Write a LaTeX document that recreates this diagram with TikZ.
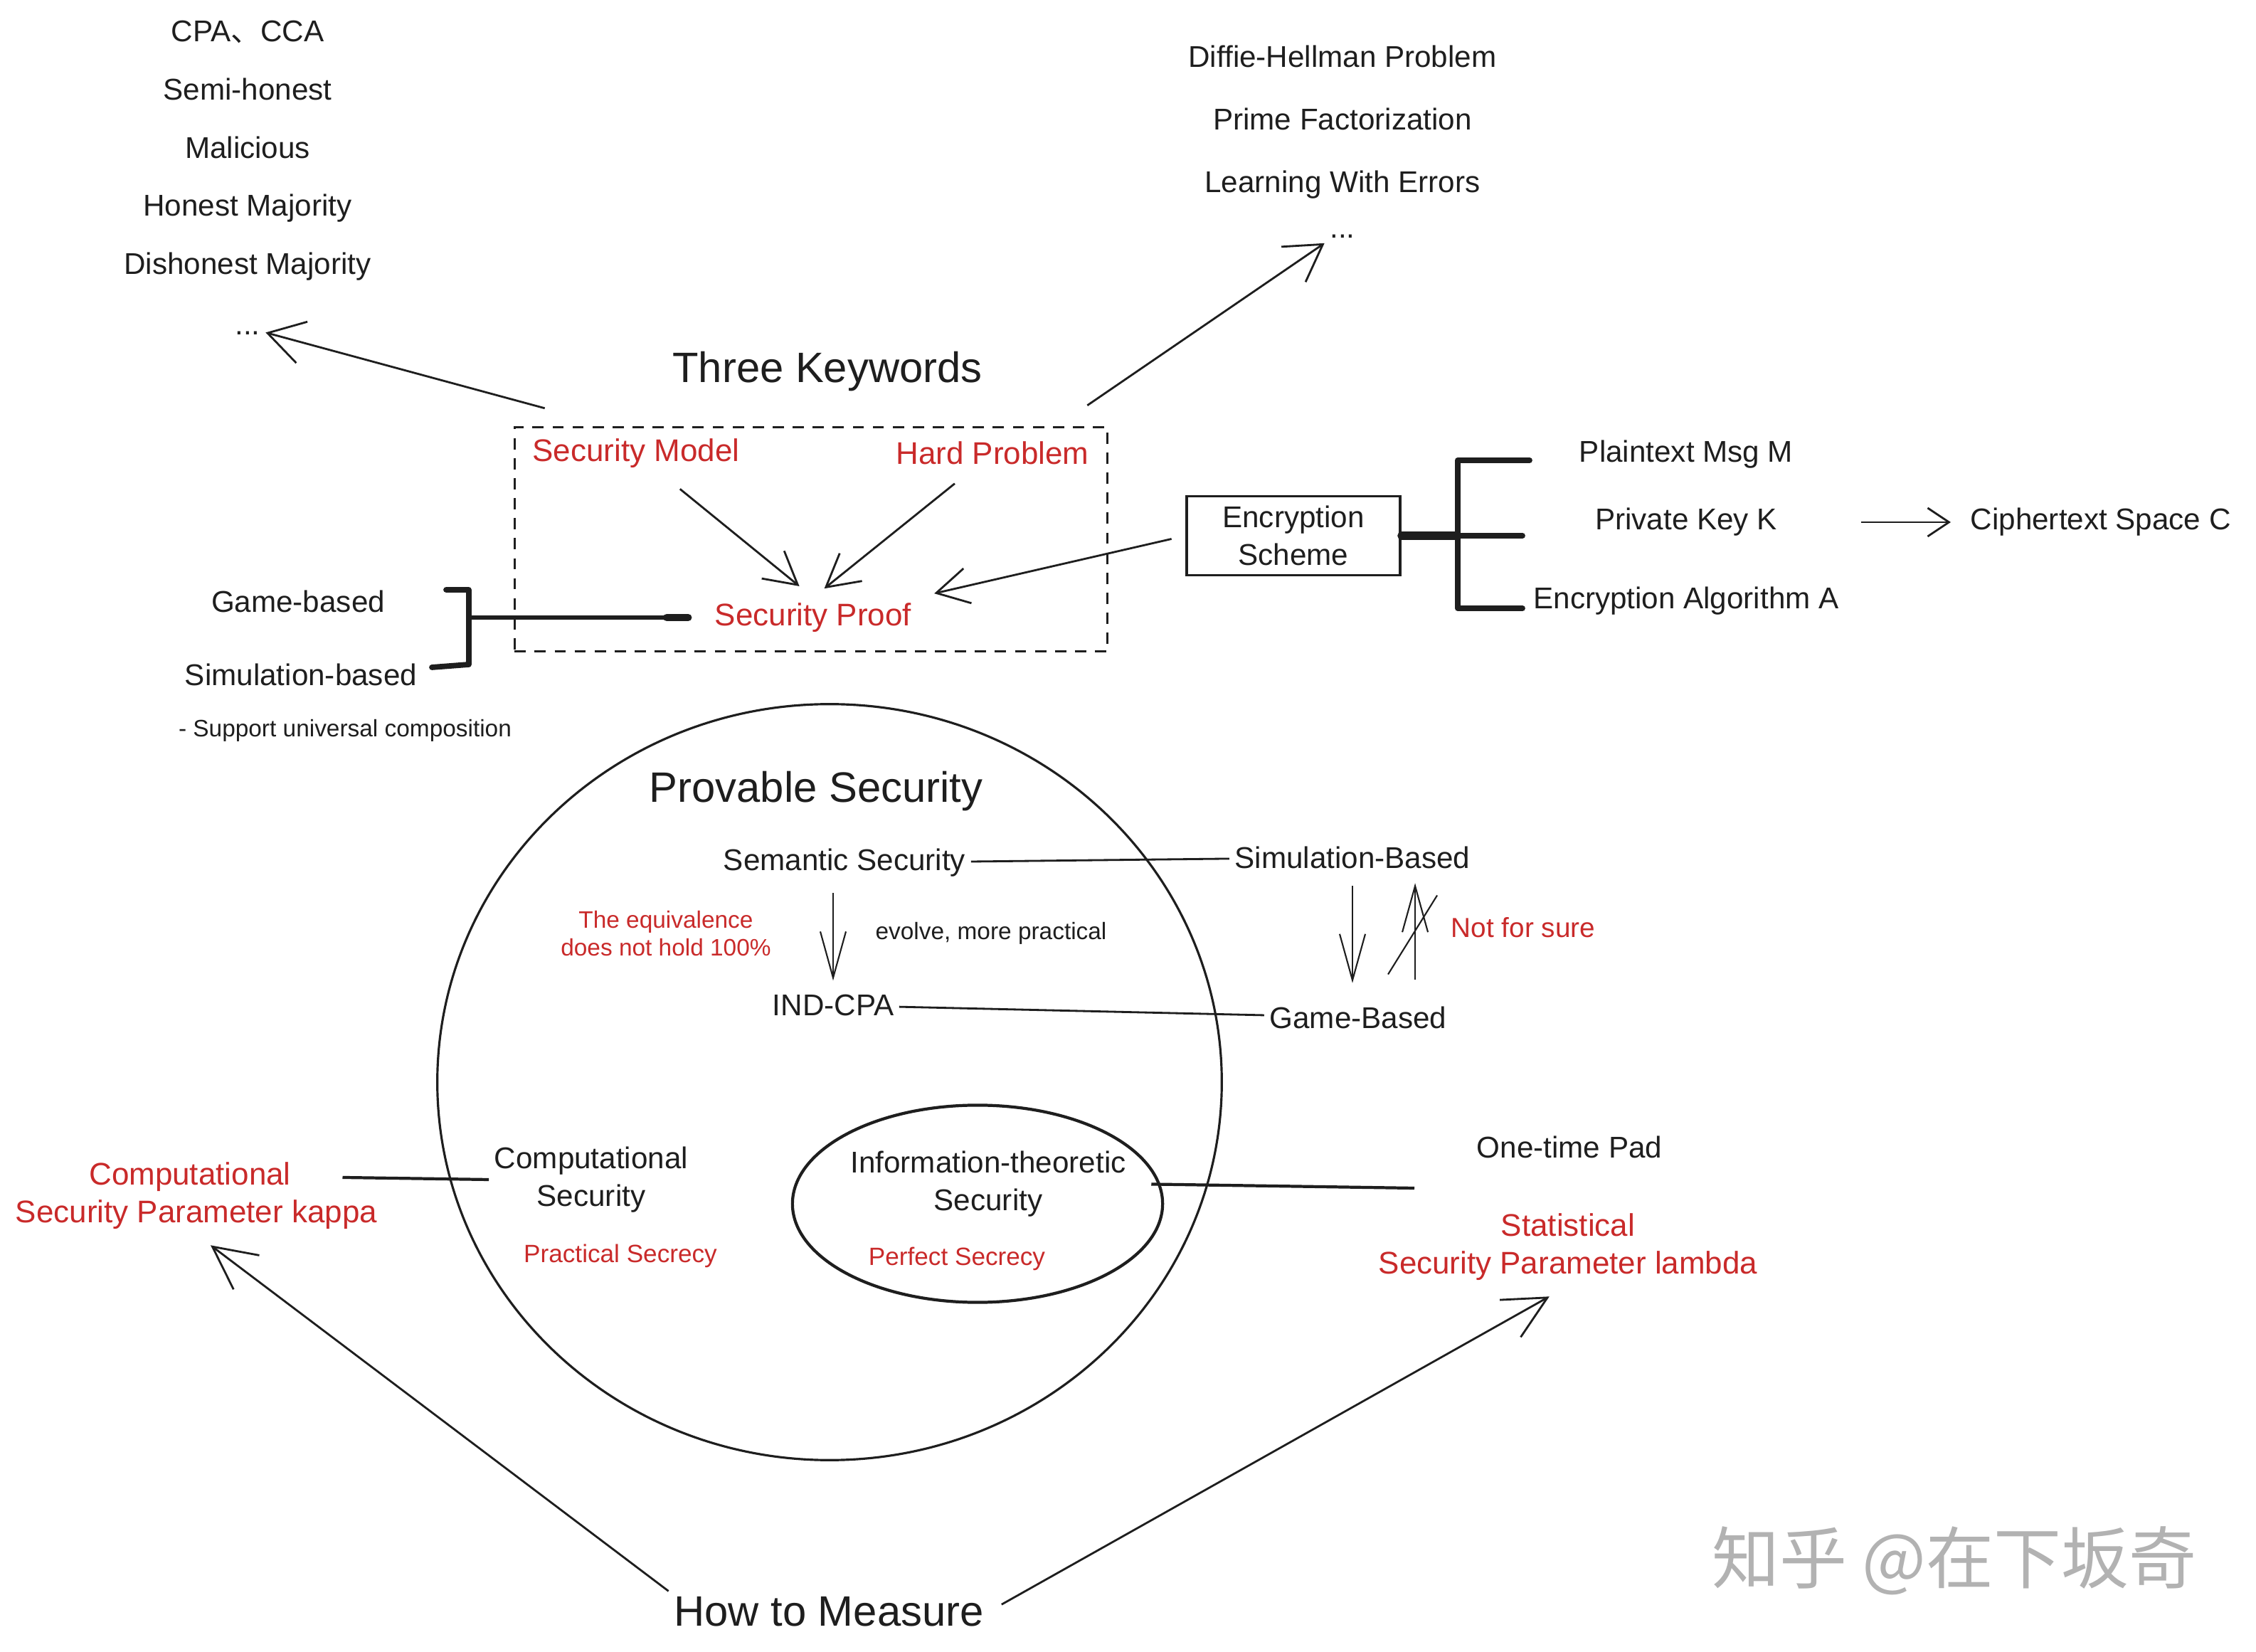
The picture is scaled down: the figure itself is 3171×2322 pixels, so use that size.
\documentclass[tikz,border=0pt]{standalone}
\usepackage{fontspec}
\setmainfont{Liberation Sans}
\newfontfamily\cjk{Noto Sans CJK SC}
\usetikzlibrary{arrows.meta,positioning,shapes.geometric}
\definecolor{hred}{RGB}{201,42,42}
\definecolor{ink}{RGB}{30,30,30}

\begin{document}
\begin{tikzpicture}[
  x=0.01cm, y=-0.01cm, >={Straight Barb[length=5mm,width=6mm]},
  txt/.style={font=\fontsize{12}{15}\selectfont, align=center, inner sep=2pt, text=ink},
  hint/.style={txt, text=hred, font=\fontsize{12.5}{15}\selectfont},
  note/.style={txt, font=\fontsize{9.5}{11}\selectfont},
  big/.style={txt, font=\fontsize{17}{20}\selectfont},
  item/.style={txt, text height=3mm, text depth=1mm},
  ar/.style={->, line width=0.8pt, draw=ink},
  dn/.style={-{Straight Barb[length=6.5mm,width=3.6mm]}},
  sm/.style={-{Straight Barb[length=4.5mm,width=5mm]}},
  ln/.style={line width=0.8pt, draw=ink},
  brace/.style={line width=2.2pt, draw=ink, line cap=round, line join=round},
]
\path[use as bounding box, fill=white] (0,0) rectangle (3171,2322);

% adversary models
\node[item] (cpa) at (348,49) {CPA{\cjk 、}CCA};
\node[item, below=2.6mm of cpa] (semi) {Semi-honest};
\node[item, below=2.6mm of semi] (mal) {Malicious};
\node[item, below=2.6mm of mal] (hmaj) {Honest Majority};
\node[item, below=2.6mm of hmaj] (dmaj) {Dishonest Majority};
\node[item, below=3mm of dmaj] (dotsl) {...};

% hard problems
\node[item] (dh) at (1887,85) {Diffie-Hellman Problem};
\node[item, below=3.2mm of dh] (pf) {Prime Factorization};
\node[item, below=3.2mm of pf] (lwe) {Learning With Errors};
\node[item, below=0.9mm of lwe] (dotsr) {...};

% three keywords
\node[big] (tk) at (1163,522) {Three Keywords};
\node[draw=ink, line width=0.9pt, dash pattern=on 4.5pt off 3.5pt,
      minimum width=8.33cm, minimum height=3.15cm] (frame) at (1140,758) {};
\node[hint] (smod) at (894,637) {Security Model};
\node[hint] (hp) at (1395,637) {Hard Problem};
\node[hint] (sp) at (1143,868) {Security Proof};

\draw[ar] ([shift={(4.4mm,2.5mm)}]frame.north west) -- (dotsl);
\draw[ar] ([shift={(-3mm,2.9mm)}]frame.north east) -- (dotsr);
\draw[ar, sm, shorten <=3.5mm, shorten >=2.5mm] (smod) -- (sp.north);
\draw[ar, sm, shorten <=3mm, shorten >=2mm] (hp) -- (sp.north);

% encryption scheme
\node[txt, draw=ink, line width=1pt, minimum width=3cm, minimum height=1.11cm] (enc) at (1818,753) {Encryption\\Scheme};
\node[txt] (pm) at (2370,639) {Plaintext Msg M};
\node[txt] (pk) at (2370,734) {Private Key K};
\node[txt] (ea) at (2370,845) {Encryption Algorithm A};
\node[txt, anchor=west] (ctx) at (2762,734) {Ciphertext Space C};

\draw[ar, sm, shorten <=2mm, shorten >=2.5mm] (enc.west) -- (sp.north east);
\draw[ar, -{Straight Barb[length=3mm,width=4mm]}, shorten <=11mm, shorten >=2mm] (pk) -- (ctx);
\coordinate (bt) at (2150,647);
\coordinate (bb) at (2140,855);
\draw[brace] (bt) -- (2049,647) -- (2049,855) -- (bb);
\draw[brace, line width=3.2pt] (enc.east) -- (2049,753);
\draw[brace] (2049,753) -- (2140,753);

% game / simulation
\node[txt] (gbl) at (419,845) {Game-based};
\node[txt] (sbl) at (423,948) {Simulation-based};
\node[note] (uc) at (485,1027) {- Support universal composition};
\coordinate (gsm) at (659,868);
\draw[brace] (627,829) -- (659,829) -- (659,934) -- (607,938);
\draw[ln, line width=1.6pt, shorten >=3mm] (gsm) -- (sp.west);
\draw[brace, line width=3pt, shorten >=3mm] ([xshift=-6mm]sp.west) -- (sp.west);

% provable security
\node[ellipse, draw=ink, line width=0.9pt, minimum width=11.02cm, minimum height=10.62cm, inner sep=0pt] (ps) at (1166,1521) {};
\node[big] (pst) at (1147,1112) {Provable Security};
\node[txt] (ss) at (1187,1213) {Semantic Security};
\node[txt] (simb) at (1901,1205) {Simulation-Based};
\node[note, text=hred] (eqv) at (936,1312) {The equivalence\\does not hold 100\%};
\node[note] (evo) at (1393,1312) {evolve, more practical};
\node[txt] (ind) at (1171,1413) {IND-CPA};
\node[txt] (gb) at (1909,1430) {Game-Based};
\node[hint, font=\fontsize{11}{13}\selectfont] (nfs) at (2141,1304) {Not for sure};

\draw[ln] (ss) -- (simb);
\draw[ln] (ind) -- (gb);
\draw[ar, dn, line width=0.6pt, shorten <=1.5mm, shorten >=1.2mm] (ind.north |- ss.south) -- (ind.north);
\draw[ar, dn, line width=0.6pt, shorten <=1.7mm, shorten >=2.5mm] (simb.south) -- (simb.south |- gb.north);
\draw[ar, dn, line width=0.6pt, shorten <=3mm, shorten >=1.3mm] ([xshift=8mm]gb.north)
  -- coordinate[pos=0.5] (upmid) ([xshift=8mm]gb.north |- simb.south);
\draw[ln, line width=0.6pt] ([shift={(3.1mm,5.9mm)}]upmid) -- ([shift={(-3.8mm,-5.2mm)}]upmid);

% computational vs information-theoretic
\node[txt] (cs) at (831,1658) {Computational\\Security};
\node[note, text=hred, font=\fontsize{10}{12}\selectfont] (prs) at (872,1765) {Practical Secrecy};
\node[hint] (ckt) at (267,1654) {Computational};
\node[hint] (ckp) at (276,1707) {Security Parameter kappa};
\draw[ln, line width=1.2pt, shorten <=6.5mm] (ckt.east) -- (cs.west);

\node[ellipse, draw=ink, line width=1.2pt, minimum width=5.2cm, minimum height=2.77cm, inner sep=0pt] (its) at (1374,1692) {};
\node[txt] (itt) at (1389,1664) {Information-theoretic\\Security};
\node[note, text=hred, font=\fontsize{10}{12}\selectfont] (pfs) at (1345,1769) {Perfect Secrecy};
\node[txt] (otp) at (2206,1612) {One-time Pad};
\node[hint] (stat) at (2204,1753) {Statistical\\Security Parameter lambda};
\coordinate (itend) at (1988,1670);
\draw[ln, line width=1.2pt, shorten <=2.8mm] (itt.east) -- (itend);

% how to measure
\node[big] (htm) at (1165,2265) {How to Measure};
\draw[ar, -{Straight Barb[length=6mm,width=6mm]}, shorten >=2.5mm] (htm.north west) -- (ckp.south);
\draw[ar, -{Straight Barb[length=6mm,width=6mm]}, shorten <=2mm, shorten >=3mm] (htm.east) -- (stat.south);

\node[font=\cjk\fontsize{27}{30}\selectfont, text=black!30] (wm) at (2747,2194) {知乎 @在下坂奇};
\end{tikzpicture}
\end{document}
